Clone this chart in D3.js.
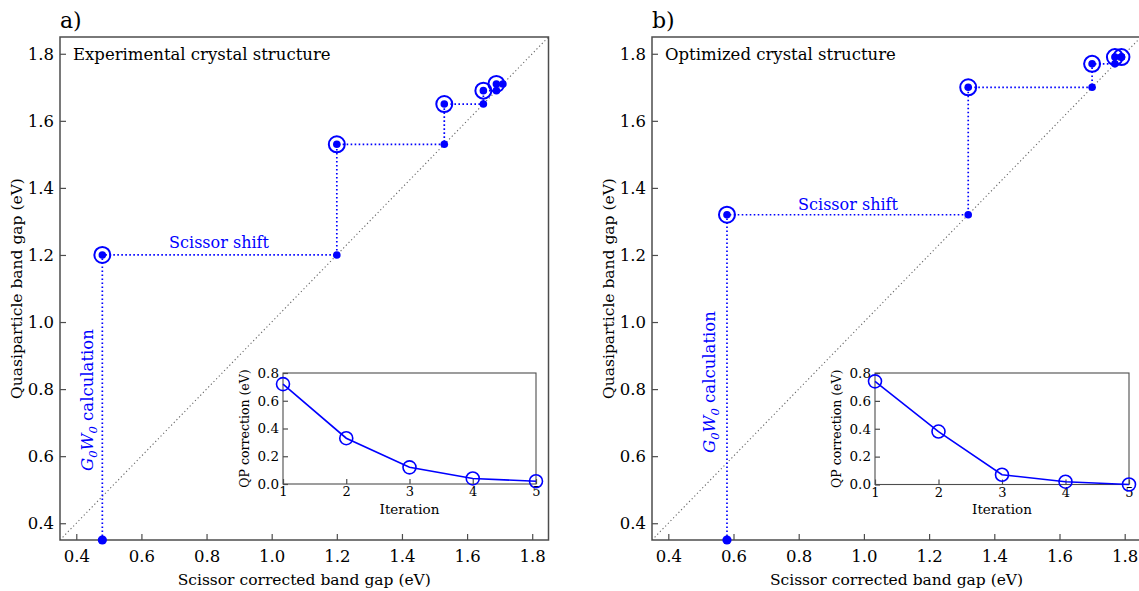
<!DOCTYPE html>
<html>
<head>
<meta charset="utf-8">
<script src="https://cdn.jsdelivr.net/npm/d3@7"></script>
<style>
  body { margin: 0; background: #fff; }
  svg { display: block; }
  text { font-family: "DejaVu Serif", "Liberation Serif", serif; fill: #000; }
</style>
</head>
<body>
<svg id="chart" width="1139" height="591"></svg>
<script>
// Band gaps (eV) along the self-consistent GW cycle
const startGapA = 0.48;                              // scissor-corrected starting gap
const qpGapsA   = [1.20, 1.53, 1.65, 1.69, 1.71];    // quasiparticle gap after each iteration
const qpCorrA   = [0.72, 0.33, 0.12, 0.04, 0.02];    // QP correction per iteration

const startGapB = 0.58;
const qpGapsB   = [1.32, 1.70, 1.77, 1.79, 1.79];
const qpCorrB   = [0.74, 0.38, 0.07, 0.02, 0.00];

const iterations  = [1, 2, 3, 4, 5];
const gapTicks    = [0.4, 0.6, 0.8, 1.0, 1.2, 1.4, 1.6, 1.8];
const corrTicks   = [0.0, 0.2, 0.4, 0.6, 0.8];
const gapDomain   = [0.35, 1.85];
const corrDomain  = [0, 0.8];

const panels = [
  { tag: "a)", title: "Experimental crystal structure", start: startGapA, gaps: qpGapsA, corr: qpCorrA,
    box: { l: 60, r: 548.5, t: 37, b: 540 }, inset: { l: 283, r: 536, t: 373, b: 484 },
    shiftLabel: { x: 219, y: 248 }, gwLabel: { x: 93, y: 400 } },
  { tag: "b)", title: "Optimized crystal structure", start: startGapB, gaps: qpGapsB, corr: qpCorrB,
    box: { l: 652, r: 1141, t: 37, b: 540 }, inset: { l: 875, r: 1129, t: 373, b: 484.5 },
    shiftLabel: { x: 848, y: 210 }, gwLabel: { x: 715, y: 382 } }
];

const BLUE = "#0000ff";
const FRAME = "#4d4d4d";
const svg = d3.select("#chart");
const fmt = d3.format(".1f");

function styleAxis(g, fontSize) {
  g.select(".domain").remove();
  g.selectAll(".tick line").attr("stroke", FRAME).attr("stroke-width", 1.2);
  g.selectAll(".tick text").style("font-size", fontSize + "px").attr("fill", "#000");
}

panels.forEach((p, idx) => {
  const B = p.box;
  const x = d3.scaleLinear().domain(gapDomain).range([B.l, B.r]);
  const y = d3.scaleLinear().domain(gapDomain).range([B.b, B.t]);
  const g = svg.append("g");

  const clipId = "clip" + idx;
  svg.append("clipPath").attr("id", clipId)
    .append("rect").attr("x", B.l).attr("y", B.t).attr("width", B.r - B.l).attr("height", B.b - B.t);

  // x = y reference line
  g.append("line")
    .attr("clip-path", `url(#${clipId})`)
    .attr("x1", x(gapDomain[0])).attr("y1", y(gapDomain[0]))
    .attr("x2", x(gapDomain[1])).attr("y2", y(gapDomain[1]))
    .attr("stroke", "#666").attr("stroke-width", 1.1).attr("stroke-dasharray", "1.2,2.6");

  // axes (ticks point inward)
  g.append("g").attr("transform", `translate(0,${B.b})`)
    .call(d3.axisBottom(x).tickValues(gapTicks).tickFormat(fmt).tickSize(-6).tickPadding(10))
    .call(a => styleAxis(a, 16.5));
  g.append("g").attr("transform", `translate(${B.l},0)`)
    .call(d3.axisLeft(y).tickValues(gapTicks).tickFormat(fmt).tickSize(-6).tickPadding(6))
    .call(a => styleAxis(a, 16.5));

  // frame
  g.append("rect").attr("x", B.l).attr("y", B.t).attr("width", B.r - B.l).attr("height", B.b - B.t)
    .attr("fill", "none").attr("stroke", FRAME).attr("stroke-width", 1.5);

  // axis titles
  g.append("text").attr("x", (B.l + B.r) / 2).attr("y", 585).attr("text-anchor", "middle")
    .style("font-size", "15.5px").text("Scissor corrected band gap (eV)");
  g.append("text").attr("transform", `translate(${B.l - 38},${(B.t + B.b) / 2}) rotate(-90)`)
    .attr("text-anchor", "middle").style("font-size", "15.5px").text("Quasiparticle band gap (eV)");

  // panel tag and title
  g.append("text").attr("x", B.l).attr("y", 28).style("font-size", "22px").text(p.tag);
  g.append("text").attr("x", B.l + 13).attr("y", 60).style("font-size", "16.5px").text(p.title);

  // iteration path: vertical (GW step) then horizontal (scissor shift)
  const prev = [p.start].concat(p.gaps.slice(0, -1));
  const pathPts = [[p.start, gapDomain[0]]];
  p.gaps.forEach((gq, i) => { pathPts.push([prev[i], gq]); pathPts.push([gq, gq]); });
  g.append("path")
    .attr("d", d3.line().x(d => x(d[0])).y(d => y(d[1]))(pathPts))
    .attr("fill", "none").attr("stroke", BLUE).attr("stroke-width", 1.7)
    .attr("stroke-dasharray", "1.6,2.4");

  // starting gap on the axis and shifted gaps on the diagonal
  const diagPts = [[p.start, gapDomain[0]]].concat(p.gaps.map(v => [v, v]));
  g.selectAll(".dot").data(diagPts).enter().append("circle")
    .attr("cx", d => x(d[0])).attr("cy", d => y(d[1])).attr("r", (d, i) => i === 0 ? 4.6 : 3.8)
    .attr("fill", BLUE);

  // GW results
  const gwPts = p.gaps.map((v, i) => [prev[i], v]);
  g.selectAll(".gw").data(gwPts).enter().append("circle")
    .attr("cx", d => x(d[0])).attr("cy", d => y(d[1])).attr("r", 8)
    .attr("fill", "none").attr("stroke", BLUE).attr("stroke-width", 2);
  g.selectAll(".gwc").data(gwPts).enter().append("circle")
    .attr("cx", d => x(d[0])).attr("cy", d => y(d[1])).attr("r", 3.8)
    .attr("fill", BLUE);

  // annotations
  g.append("text").attr("x", p.shiftLabel.x).attr("y", p.shiftLabel.y).attr("text-anchor", "middle")
    .style("fill", BLUE).style("font-size", "16px").text("Scissor shift");
  const gw = g.append("text")
    .attr("transform", `translate(${p.gwLabel.x},${p.gwLabel.y}) rotate(-90)`)
    .attr("text-anchor", "middle").style("fill", BLUE).style("font-size", "16.5px");
  gw.append("tspan").style("font-style", "italic").text("G");
  gw.append("tspan").style("font-style", "italic").style("font-size", "11.5px").attr("dy", 4).text("0");
  gw.append("tspan").style("font-style", "italic").attr("dy", -4).text("W");
  gw.append("tspan").style("font-style", "italic").style("font-size", "11.5px").attr("dy", 4).text("0");
  gw.append("tspan").attr("dy", -4).text(" calculation");

  // inset: QP correction vs iteration
  const I = p.inset;
  const xi = d3.scaleLinear().domain([1, 5]).range([I.l, I.r]);
  const yi = d3.scaleLinear().domain(corrDomain).range([I.b, I.t]);
  const gi = svg.append("g");
  gi.append("rect").attr("x", I.l).attr("y", I.t).attr("width", I.r - I.l).attr("height", I.b - I.t)
    .attr("fill", "#fff");
  gi.append("g").attr("transform", `translate(0,${I.b})`)
    .call(d3.axisBottom(xi).tickValues(iterations).tickFormat(d3.format("d")).tickSize(-5).tickPadding(3))
    .call(a => styleAxis(a, 13));
  gi.append("g").attr("transform", `translate(${I.l},0)`)
    .call(d3.axisLeft(yi).tickValues(corrTicks).tickFormat(fmt).tickSize(-5).tickPadding(4))
    .call(a => styleAxis(a, 13.5));
  gi.append("rect").attr("x", I.l).attr("y", I.t).attr("width", I.r - I.l).attr("height", I.b - I.t)
    .attr("fill", "none").attr("stroke", FRAME).attr("stroke-width", 1.1);
  gi.append("text").attr("x", (I.l + I.r) / 2).attr("y", 513.5).attr("text-anchor", "middle")
    .style("font-size", "13.5px").text("Iteration");
  gi.append("text").attr("transform", `translate(${I.l - 34},${(I.t + I.b) / 2}) rotate(-90)`)
    .attr("text-anchor", "middle").style("font-size", "12.5px").text("QP correction (eV)");

  const series = iterations.map((it, i) => [it, p.corr[i]]);
  gi.append("path")
    .attr("d", d3.line().x(d => xi(d[0])).y(d => yi(d[1]))(series))
    .attr("fill", "none").attr("stroke", BLUE).attr("stroke-width", 1.6);
  gi.selectAll(".m").data(series).enter().append("circle")
    .attr("cx", d => xi(d[0])).attr("cy", d => yi(d[1])).attr("r", 6.5)
    .attr("fill", "none").attr("stroke", BLUE).attr("stroke-width", 1.6);
});
</script>
</body>
</html>
